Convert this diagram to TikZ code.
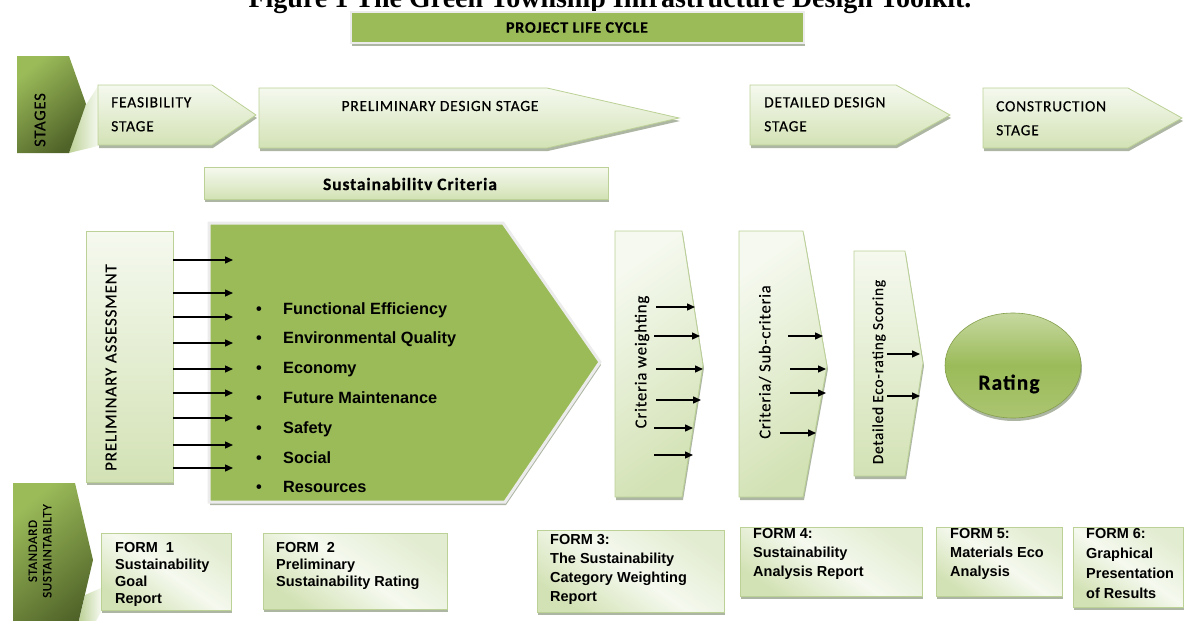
\documentclass[tikz,border=0pt]{standalone}
\usepackage{fontspec}
\setmainfont{Liberation Sans}
\newfontfamily\calfont[LetterSpace=5,FakeBold=0.4]{Carlito}
\newfontfamily\serfont{Liberation Serif}
\usetikzlibrary{shadows,arrows.meta}
\definecolor{og}{HTML}{9BBB59}
\definecolor{ogd}{HTML}{4F6228}
\definecolor{lgA}{HTML}{F5F9EF}
\definecolor{lgB}{HTML}{D3E2B5}
\definecolor{lgC}{HTML}{E2ECD0}
\definecolor{lgE}{HTML}{BCD196}
\definecolor{shd}{HTML}{A4AE99}
\definecolor{halo}{HTML}{ECECEC}
\definecolor{rtA}{HTML}{C6D8A0}
\definecolor{rtB}{HTML}{ABC571}
\newcommand\fsz[2]{\fontsize{#1}{#2}\selectfont}
\begin{document}
\begin{tikzpicture}[x=1pt,y=-1pt,
  sh/.style={drop shadow={shadow xshift=1pt,shadow yshift=-3pt,fill=shd,opacity=0.9}},
  light/.style={sh,draw=lgE,line width=0.8pt,top color=lgA,bottom color=lgB},
  lightd/.style={sh,draw=lgE,line width=0.8pt,top color=lgA,bottom color=lgB,shading angle=35},
  formbox/.style={sh,draw=lgE,line width=0.8pt,top color=lgC,bottom color=lgB,middle color=lgA,shading angle=-35},
  arr/.style={-{Triangle[length=8pt,width=7pt]},line width=1.4pt},
  lbl/.style={inner sep=0pt,text=black},
  stg/.style={lbl,font=\calfont\fsz{15.5}{24},align=left,anchor=north west},
  frm/.style={lbl,font=\bfseries\fsz{14.5}{17},align=left,anchor=north west},
  blt/.style={lbl,font=\bfseries\fsz{16.3}{20},anchor=base west},
  rot/.style={lbl,rotate=90}
]
\useasboundingbox (0,0) rectangle (1187,621);

% title (cut at the top edge, as in the reference)
\node[lbl,font=\serfont\bfseries\fsz{28}{32},anchor=base] (title) at (610,8) {Figure 1 The Green Township Infrastructure Design Toolkit.};

% project life cycle
\path[sh,fill=og,draw=halo,line width=2.5pt] (351,12) rectangle (804,43);
\node[lbl,font=\calfont\bfseries\fsz{16}{19}] (plc) at (577,27.5) {PROJECT LIFE CYCLE};

% stages
\path[left color=lgE, right color=lgA] (69,153) -- (84,108) -- (98,86) -- (98,146) -- cycle;
\path[top color=og, bottom color=ogd, shading angle=40] (17,56) -- (69,56) -- (86,104) -- (69,153) -- (17,153) -- cycle;
\node[rot,font=\calfont\fsz{16.5}{19}] (stages) at (40,120) {STAGES};

\path[light] (98,85) -- (212,85) -- (256,115) -- (212,145) -- (98,145) -- cycle;
\node[stg] (feas) at (111,97) {FEASIBILITY\\STAGE};
\path[light] (259,88) -- (547,88) -- (679,118) -- (547,148) -- (259,148) -- cycle;
\node[lbl,font=\calfont\fsz{15.5}{24}] (prel) at (440,106) {PRELIMINARY DESIGN STAGE};
\path[light] (750,85) -- (896,85) -- (950,115) -- (896,145) -- (750,145) -- cycle;
\node[stg] (det) at (764,97) {DETAILED DESIGN\\STAGE};
\path[light] (983,88) -- (1128,88) -- (1182,118) -- (1128,148) -- (983,148) -- cycle;
\node[stg] (cons) at (996,101) {CONSTRUCTION\\STAGE};

% sustainability criteria bar
\path[light] (204,167) rectangle (608,199);
\node[lbl,font=\calfont\bfseries\fsz{17.5}{20}] (sc) at (410,184) {Sustainabilitv Criteria};

% big pentagon
\path[sh,fill=og,draw=halo,line width=3pt] (209,223) -- (503,223) -- (600,362) -- (505,502) -- (209,502) -- cycle;
\foreach \t [count=\i from 0] in {Functional Efficiency,Environmental Quality,Economy,Future Maintenance,Safety,Social,Resources}
  \node[blt] (crit\i) at (256,314+29.8*\i) {\makebox[27pt][l]{\textbullet}\t};

% preliminary assessment
\node[light,minimum width=87pt,minimum height=251pt,inner sep=0pt] (pa) at (129.5,356.5) {};
\node[rot,font=\calfont\fsz{17}{20}] (pat) at (111,367.5) {PRELIMINARY ASSESSMENT};
\coordinate (pin) at (233,0);
\foreach \y in {260,293,317,343,369,393,418,445,468}
  \draw[arr] (pa.east |- 0,\y) -- (pin |- 0,\y);

% criteria weighting
\path[lightd] (615,231) -- (682,231) -- (703,365) -- (682,497) -- (615,497) -- cycle;
\node[rot,font=\calfont\fsz{16.7}{20}] (cw) at (642,362) {Criteria weighting};
\foreach \a/\b/\y [count=\i] in {656/695/307,654/700/336,656/703/369,656/701/400,654/693/428,654/693/455}{
  \coordinate (cwS\i) at (\a,\y); \coordinate (cwE\i) at (\b,\y);
  \draw[arr] (cwS\i) -- (cwE\i);}

% criteria / sub-criteria
\path[lightd] (739,231) -- (803,231) -- (827,366) -- (803,497) -- (739,497) -- cycle;
\node[rot,font=\calfont\fsz{16.5}{20}] (csc) at (765,362) {Criteria/ Sub-criteria};
\foreach \a/\b/\y [count=\i] in {788/823/336,790/826/369,790/826/393,780/816/433}{
  \coordinate (scS\i) at (\a,\y); \coordinate (scE\i) at (\b,\y);
  \draw[arr] (scS\i) -- (scE\i);}

% detailed eco-rating scoring
\path[light] (854,251) -- (905,251) -- (923,363) -- (905,476) -- (854,476) -- cycle;
\node[rot,font=\calfont\fsz{15.3}{20}] (des) at (879,372) {Detailed Eco-rating Scoring};
\foreach \y [count=\i] in {354,396}{
  \coordinate (dsS\i) at (887,\y); \coordinate (dsE\i) at (920,\y);
  \draw[arr] (dsS\i) -- (dsE\i);}

% rating
\path[sh,top color=rtA,bottom color=rtB,middle color=og,draw=og!85!black,line width=0.6pt] (1013,365.5) ellipse [x radius=68pt,y radius=52.5pt];
\node[lbl,font=\calfont\bfseries\fsz{21.5}{24}] (rating) at (1009,384) {Rating};

% standard sustainability
\path[left color=lgE, right color=lgA] (85,595) -- (101,588) -- (101,612) -- (96,621) -- (79,621) -- cycle;
\path[top color=og, bottom color=ogd, shading angle=40] (13,483) -- (75,483) -- (93,560) -- (75,637) -- (13,637) -- cycle;
\node[rot,font=\calfont\fsz{13}{14.5},align=center] (std) at (40,551) {STANDARD\\SUSTAINTABILTY};

% forms
\path[formbox] (101,533) rectangle (231,610);
\node[frm] (f1) at (115,542.6) {FORM\ \ 1\\Sustainability\\Goal\\Report};
\path[formbox] (263,533) rectangle (447,609);
\node[frm] (f2) at (276,542.6) {FORM\ \ 2\\Preliminary\\Sustainability Rating};
\path[formbox] (537,530) rectangle (724,612);
\node[frm,font=\bfseries\fsz{14.5}{18.7}] (f3) at (550,534.6) {FORM 3:\\The Sustainability\\Category Weighting\\Report};
\path[formbox] (740,527) rectangle (922,596);
\node[frm,font=\bfseries\fsz{14.5}{19}] (f4) at (753,528) {FORM 4:\\Sustainability\\Analysis Report};
\path[formbox] (936,527) rectangle (1062,596);
\node[frm,font=\bfseries\fsz{14.5}{19}] (f5) at (950,528) {FORM 5:\\Materials Eco\\Analysis};
\path[formbox] (1073,527) rectangle (1183,607);
\node[frm,font=\bfseries\fsz{14.5}{20}] (f6) at (1086,528) {FORM 6:\\Graphical\\Presentation\\of Results};
\end{tikzpicture}
\end{document}
